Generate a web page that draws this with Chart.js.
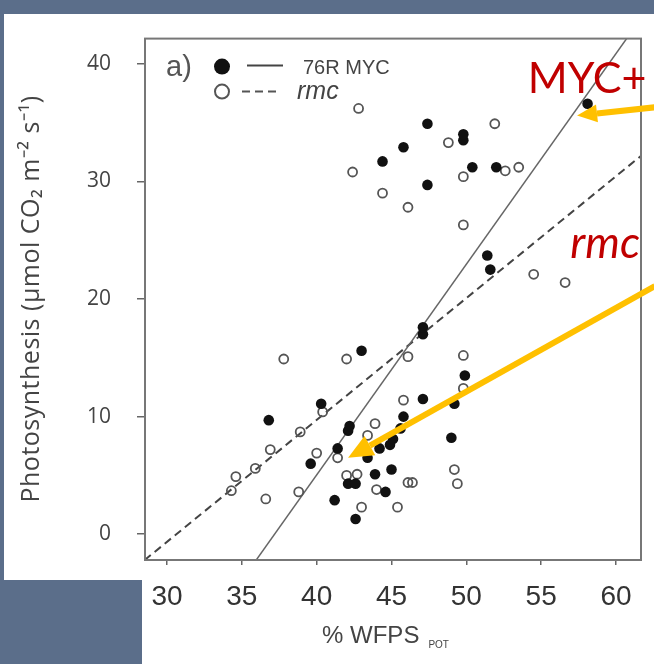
<!DOCTYPE html>
<html>
<head>
<meta charset="utf-8">
<script src="https://cdn.jsdelivr.net/npm/chart.js@4.4.1/dist/chart.umd.min.js"></script>
<style>
html, body { margin: 0; padding: 0; background: #5b6e8a; }
#wrap { width: 654px; height: 664px; }
</style>
</head>
<body>
<div id="wrap"><canvas id="wfpsChart" width="654" height="664"></canvas></div>
<script>
const xTicks = [30, 35, 40, 45, 50, 55, 60];
const yTicks = [0, 10, 20, 30, 40];

// 76R MYC, filled dots
const mycWfps = [58.1, 47.4, 45.8, 44.4, 49.8, 49.8, 50.4, 52.0, 47.4, 51.4, 51.6,
    47.1, 47.1, 43.0, 49.9, 49.2, 47.1, 40.3, 45.8, 36.8, 45.6,
    42.1, 42.2, 44.9, 45.1, 44.2, 41.4, 43.4, 39.6, 45.0, 43.9,
    49.0, 42.1, 42.6, 44.6, 41.2, 42.6];
const mycPhoto = [36.6, 34.9, 32.9, 31.7, 33.5, 34.0, 31.2, 31.2, 29.7, 23.7, 22.5,
    17.0, 17.6, 15.6, 13.5, 11.1, 11.5, 11.1, 10.0, 9.7, 9.0,
    8.8, 9.2, 7.6, 8.1, 7.3, 7.3, 6.5, 6.0, 5.5, 5.1,
    8.2, 4.3, 4.3, 3.6, 2.9, 1.3];

// rmc, open dots
const rmcWfps = [42.8, 51.9, 48.8, 42.4, 49.8, 52.6, 53.5, 44.4, 46.1, 49.8, 54.5, 56.6,
    37.8, 42.0, 46.1, 49.8, 49.8, 45.8, 40.4, 43.9, 38.9, 43.4,
    36.9, 40.0, 41.4, 35.9, 34.6, 42.0, 42.7, 49.2, 34.3, 38.8,
    44.0, 46.1, 46.4, 49.4, 36.6, 43.0, 45.4];
const rmcPhoto = [36.2, 34.9, 33.3, 30.8, 30.4, 30.9, 31.2, 29.0, 27.8, 26.3, 22.1, 21.4,
    14.9, 14.9, 15.1, 15.2, 12.4, 11.4, 10.4, 9.4, 8.7, 8.4,
    7.2, 6.9, 6.5, 5.6, 4.9, 5.0, 5.1, 5.5, 3.7, 3.6,
    3.8, 4.4, 4.4, 4.3, 3.0, 2.3, 2.3];

// regression lines, end points
const mycFitWfps = [35.9, 60.8];
const mycFitPhoto = [-2.3, 42.3];
const rmcFitWfps = [28.5, 61.7];
const rmcFitPhoto = [-2.2, 32.2];

document.addEventListener("DOMContentLoaded", function () {

    function toPoints(xs, ys) {
        return xs.map((x, i) => ({ x: x, y: ys[i] }));
    }

    function drawArrow(ctx, x0, y0, x1, y1, shaft, headLen, headHalf) {
        const ang = Math.atan2(y1 - y0, x1 - x0);
        const bx = x1 - headLen * Math.cos(ang);
        const by = y1 - headLen * Math.sin(ang);
        ctx.strokeStyle = '#ffc000';
        ctx.fillStyle = '#ffc000';
        ctx.lineWidth = shaft;
        ctx.beginPath();
        ctx.moveTo(x0, y0);
        ctx.lineTo(bx, by);
        ctx.stroke();
        ctx.beginPath();
        ctx.moveTo(x1, y1);
        ctx.lineTo(bx + headHalf * Math.sin(ang), by - headHalf * Math.cos(ang));
        ctx.lineTo(bx - headHalf * Math.sin(ang), by + headHalf * Math.cos(ang));
        ctx.closePath();
        ctx.fill();
    }

    const backdrop = {
        id: 'backdrop',
        beforeDraw(chart) {
            const ctx = chart.ctx;
            ctx.save();
            ctx.fillStyle = '#5b6e8a';
            ctx.fillRect(0, 0, chart.width, chart.height);
            ctx.fillStyle = '#ffffff';
            ctx.fillRect(4, 14, chart.width - 4, 566);
            ctx.fillRect(142, 580, chart.width - 142, chart.height - 580);
            ctx.restore();
        }
    };

    const decorations = {
        id: 'decorations',
        afterDraw(chart) {
            const ctx = chart.ctx;
            const a = chart.chartArea;
            const xs = chart.scales.x, ys = chart.scales.y;
            ctx.save();

            // frame
            ctx.strokeStyle = '#777';
            ctx.lineWidth = 2;
            ctx.strokeRect(a.left, a.top, a.right - a.left, a.bottom - a.top);

            // legend box
            ctx.fillStyle = '#555';
            ctx.font = '29px "Liberation Sans", Arial, sans-serif';
            ctx.textBaseline = 'alphabetic';
            ctx.fillText('a)', a.left + 21, a.top + 37);
            ctx.beginPath();
            ctx.arc(a.left + 77, a.top + 28, 8, 0, Math.PI * 2);
            ctx.fillStyle = '#111';
            ctx.fill();
            ctx.strokeStyle = '#444';
            ctx.lineWidth = 2;
            ctx.beginPath();
            ctx.moveTo(a.left + 102, a.top + 27);
            ctx.lineTo(a.left + 138, a.top + 27);
            ctx.stroke();
            ctx.fillStyle = '#444';
            ctx.font = '20px "Liberation Sans", Arial, sans-serif';
            ctx.fillText('76R MYC', a.left + 158, a.top + 35);
            ctx.beginPath();
            ctx.arc(a.left + 77, a.top + 53, 7, 0, Math.PI * 2);
            ctx.strokeStyle = '#555';
            ctx.stroke();
            ctx.setLineDash([8, 5]);
            ctx.beginPath();
            ctx.moveTo(a.left + 97, a.top + 53);
            ctx.lineTo(a.left + 133, a.top + 53);
            ctx.stroke();
            ctx.setLineDash([]);
            ctx.font = 'italic 25px "Liberation Sans", Arial, sans-serif';
            ctx.fillText('rmc', a.left + 152, a.top + 60);

            // axis titles
            ctx.fillStyle = '#444';
            ctx.font = '25px "Open Sans", sans-serif';
            ctx.textAlign = 'center';
            ctx.save();
            ctx.translate(32, 299);
            ctx.rotate(-Math.PI / 2);
            ctx.textBaseline = 'middle';
            ctx.letterSpacing = '0.5px';
            ctx.fillText('Photosynthesis (\u00b5mol CO\u2082 m\u207b\u00b2 s\u207b\u00b9)', 0, 0);
            ctx.restore();

            ctx.textAlign = 'left';
            const main = '% WFPS';
            ctx.font = '24px "Liberation Sans", Arial, sans-serif';
            const w1 = ctx.measureText(main).width;
            ctx.font = '10px "Liberation Sans", Arial, sans-serif';
            const w2 = ctx.measureText('POT').width;
            const sx = (a.left + a.right) / 2 - 8 - (w1 + w2 + 8) / 2;
            ctx.font = '24px "Liberation Sans", Arial, sans-serif';
            ctx.fillText(main, sx, 643);
            ctx.font = '10px "Liberation Sans", Arial, sans-serif';
            ctx.fillText('POT', sx + w1 + 9, 648);

            // annotations
            drawArrow(ctx, xs.getPixelForValue(62.6), ys.getPixelForValue(36.3),
                xs.getPixelForValue(57.4), ys.getPixelForValue(35.6), 6, 20, 9);
            drawArrow(ctx, xs.getPixelForValue(62.6), ys.getPixelForValue(21.1),
                xs.getPixelForValue(42.1), ys.getPixelForValue(6.5), 6, 25, 11);

            ctx.fillStyle = '#c00000';
            ctx.font = '43px Lato, "Open Sans", sans-serif';
            ctx.textAlign = 'left';
            ctx.fillText('MYC+', xs.getPixelForValue(54.1), ys.getPixelForValue(37.5));
            ctx.font = 'italic 44px Lato, "Open Sans", sans-serif';
            ctx.textAlign = 'right';
            ctx.fillText('rmc', xs.getPixelForValue(61.6), ys.getPixelForValue(23.5));

            ctx.restore();
        }
    };

    const canvas = document.getElementById('wfpsChart');
    const ctx = canvas.getContext('2d');

    new Chart(ctx, {
        type: 'scatter',
        data: {
            datasets: [
                {
                    label: '76R MYC',
                    data: toPoints(mycWfps, mycPhoto),
                    pointRadius: 5.3,
                    pointBackgroundColor: '#111',
                    pointBorderWidth: 0
                },
                {
                    label: 'rmc',
                    data: toPoints(rmcWfps, rmcPhoto),
                    pointRadius: 4.5,
                    pointBackgroundColor: 'rgba(255,255,255,0)',
                    pointBorderColor: '#555',
                    pointBorderWidth: 1.8
                },
                {
                    label: '76R MYC fit',
                    type: 'line',
                    data: toPoints(mycFitWfps, mycFitPhoto),
                    borderColor: '#666',
                    borderWidth: 1.5,
                    pointRadius: 0,
                    fill: false
                },
                {
                    label: 'rmc fit',
                    type: 'line',
                    data: toPoints(rmcFitWfps, rmcFitPhoto),
                    borderColor: '#444',
                    borderWidth: 2,
                    borderDash: [8, 5],
                    pointRadius: 0,
                    fill: false
                }
            ]
        },
        options: {
            responsive: false,
            animation: false,
            layout: { padding: { left: 0, top: 33, right: 13, bottom: 0 } },
            scales: {
                x: {
                    type: 'linear',
                    min: 28.53,
                    max: 61.67,
                    afterBuildTicks: s => { s.ticks = xTicks.map(v => ({ value: v })); },
                    afterFit: s => { s.height = 104; },
                    grid: { drawOnChartArea: false, drawTicks: true, tickLength: 5, color: '#666', lineWidth: 1.5 },
                    border: { display: false },
                    ticks: {
                        padding: 15,
                        color: '#333',
                        maxRotation: 0,
                        autoSkip: false,
                        font: { family: '"Liberation Sans", Arial, sans-serif', size: 28 }
                    }
                },
                y: {
                    type: 'linear',
                    min: -2.19,
                    max: 42.14,
                    afterBuildTicks: s => { s.ticks = yTicks.map(v => ({ value: v })); },
                    afterFit: s => { s.width = 145; },
                    grid: { drawOnChartArea: false, drawTicks: true, tickLength: 8, color: '#666', lineWidth: 1.5 },
                    border: { display: false },
                    ticks: {
                        padding: 26,
                        color: '#444',
                        font: { family: '"Open Sans", sans-serif', size: 21 }
                    }
                }
            },
            plugins: {
                legend: { display: false },
                tooltip: { enabled: false }
            }
        },
        plugins: [backdrop, decorations]
    });
});
</script>
</body>
</html>
